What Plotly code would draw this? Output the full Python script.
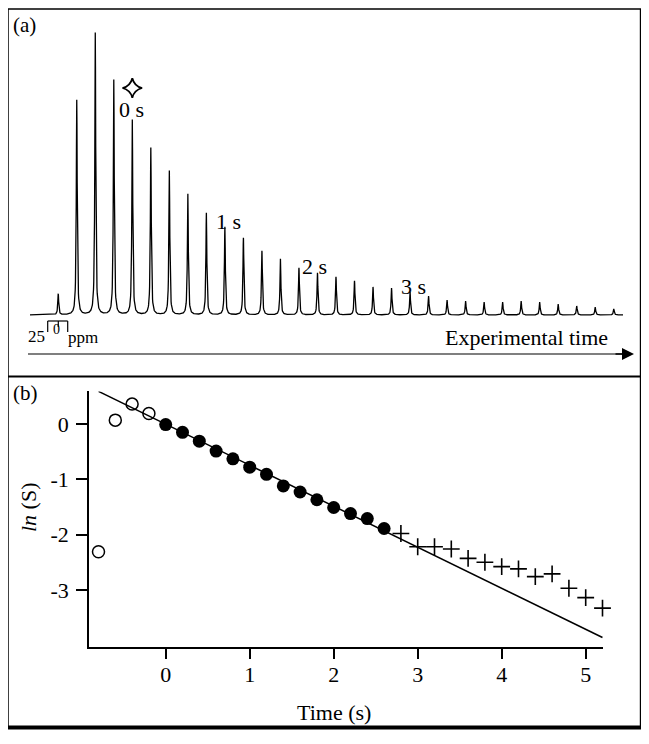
import plotly.graph_objects as go

# page body has an 8px margin: build the figure 16px smaller and shift coordinates
OFF = 8
W, H = 649 - 2 * OFF, 744 - 2 * OFF
FONT = "Liberation Serif"

# ---------------- Panel (a) data: spectrum peak train ----------------
peak_times = [-0.8, -0.6, -0.4, -0.2, 0.0, 0.2, 0.4, 0.6, 0.8, 1.0, 1.2, 1.4, 1.6, 1.8, 2.0,
              2.2, 2.4, 2.6, 2.8, 3.0, 3.2, 3.4, 3.6, 3.8, 4.0, 4.2, 4.4, 4.6, 4.8, 5.0, 5.2]
peak_heights = [21, 215, 282, 235, 195, 167, 144, 121, 102, 88, 77, 64, 56, 47, 42,
                38, 34, 28, 27, 23, 19, 15, 14, 13, 13, 14, 13, 11, 9, 8, 6]
time_labels = ["0 s", "1 s", "2 s", "3 s"]
time_label_x = [-0.01, 1.04, 1.97, 3.04]
time_label_y = [206, 94, 49, 29]

# ---------------- Panel (b) data ----------------
open_t = [-0.8, -0.6, -0.4, -0.2]
open_ln = [-2.31, 0.07, 0.36, 0.19]
fill_t = [0.0, 0.2, 0.4, 0.6, 0.8, 1.0, 1.2, 1.4, 1.6, 1.8, 2.0, 2.2, 2.4, 2.6]
fill_ln = [-0.01, -0.15, -0.31, -0.49, -0.63, -0.78, -0.91, -1.12, -1.23, -1.37, -1.51, -1.62, -1.71, -1.89]
cross_t = [2.8, 3.0, 3.2, 3.4, 3.6, 3.8, 4.0, 4.2, 4.4, 4.6, 4.8, 5.0, 5.2]
cross_ln = [-1.98, -2.22, -2.22, -2.26, -2.43, -2.50, -2.58, -2.62, -2.76, -2.71, -2.97, -3.14, -3.33]
fit_t = [-0.8, 5.2]
fit_ln = [0.59, -3.86]
x_ticks_b = [0, 1, 2, 3, 4, 5]
y_ticks_b = [0, -1, -2, -3]

# ---- spectrum line built from the peak list (Lorentzian lineshapes) ----
px_per_s = 92.6
t_min, t_max = -1.105, 5.30
hw = 0.55 / px_per_s
grid = [t_min + i * (t_max - t_min) / 2400 for i in range(2401)] + list(peak_times)
grid = sorted(set(grid))
spec = []
for t in grid:
    v = 0.0
    for pt, ph in zip(peak_times, peak_heights):
        d = (t - pt) / hw
        v += ph / (1 + d * d)
    spec.append(v)


def px_x(p):
    return (p - OFF) / W


def px_y(p):
    return 1 - (p - OFF) / H


fig = go.Figure()

# panel (a)
fig.add_trace(go.Scatter(x=grid, y=spec, mode="lines", line=dict(color="black", width=1.3),
                         xaxis="x2", yaxis="y2", hoverinfo="skip"))
fig.add_trace(go.Scatter(x=[0.0], y=[227], mode="markers",
                         marker=dict(symbol="star-diamond-open", size=14, color="black",
                                     line=dict(width=1.8, color="black")),
                         xaxis="x2", yaxis="y2"))

# panel (b)
fig.add_trace(go.Scatter(x=fit_t, y=fit_ln, mode="lines", line=dict(color="black", width=1.5),
                         cliponaxis=False))
fig.add_trace(go.Scatter(x=open_t, y=open_ln, mode="markers", cliponaxis=False,
                         marker=dict(symbol="circle-open", size=12, color="black",
                                     line=dict(width=1.5, color="black"))))
fig.add_trace(go.Scatter(x=fill_t, y=fill_ln, mode="markers", cliponaxis=False,
                         marker=dict(symbol="circle", size=13, color="black")))
fig.add_trace(go.Scatter(x=cross_t, y=cross_ln, mode="markers", cliponaxis=False,
                         marker=dict(symbol="cross-thin", size=12, color="black",
                                     line=dict(width=1.6, color="black"))))

# axes geometry (reference pixels)
ax_b_left, ax_b_right = 89, 603
ax_b_top, ax_b_bottom = 391.4, 646.7
x0_px, x_scale = 165.7, 84.0
y0_px, y_scale = 424.0, 55.3
xr_b = [(ax_b_left - x0_px) / x_scale, (ax_b_right - x0_px) / x_scale]
yr_b = [(y0_px - ax_b_bottom) / y_scale, (y0_px - ax_b_top) / y_scale]

a_top, a_bottom = 9, 376
base_px = 315
a_left_px = 30
a_right_px = 623


def hline(x0, x1, y, w):
    return dict(type="line", xref="paper", yref="paper", x0=px_x(x0), x1=px_x(x1), y0=px_y(y), y1=px_y(y),
                line=dict(color="black", width=w))


def vline(x, y0, y1, w):
    return dict(type="line", xref="paper", yref="paper", x0=px_x(x), x1=px_x(x), y0=px_y(y0), y1=px_y(y1),
                line=dict(color="black", width=w))


shapes = [
    hline(8, 642, 9, 1.5),
    vline(8, 9, 729, 1.5),
    vline(640.8, 9, 729, 2),
    hline(8, 642, 376.5, 1.8),
    hline(8, 642, 727.5, 4),
    hline(28, 622, 354, 1.2),
    hline(47.7, 67.7, 321, 1.2),
    vline(47.7, 321, 332, 1.2),
    vline(58.3, 321, 327, 1.2),
    vline(67.7, 321, 332, 1.2),
]


def pann(text, x, y, size, xanchor="center", **kw):
    return dict(text=text, xref="paper", yref="paper", x=px_x(x), y=px_y(y), xanchor=xanchor,
                yanchor="middle", showarrow=False, font=dict(size=size), **kw)


annotations = [
    pann("(a)", 11, 25, 21, "left"),
    pann("(b)", 11, 393, 21, "left"),
    pann("Experimental time", 610, 338, 22, "right"),
    dict(text="", xref="paper", yref="paper", x=px_x(634), y=px_y(354), ax=-20, ay=0,
         axref="pixel", ayref="pixel", showarrow=True, arrowhead=2, arrowsize=1.6, arrowwidth=1.5,
         arrowcolor="black", standoff=0),
    pann("25", 47, 337, 17, "right"),
    pann("0", 56.7, 329, 14),
    pann("ppm", 66, 338, 17, "left"),
    pann("<i>ln</i> (S)", 28, 507, 22, textangle=-90),
    pann("Time (s)", 334, 712, 22),
]
for lab, lx, ly in zip(time_labels, time_label_x, time_label_y):
    annotations.append(dict(text=lab, xref="x2", yref="y2", x=lx, y=ly, xanchor="center", yanchor="middle",
                            showarrow=False, font=dict(size=22)))

fig.update_layout(
    width=W, height=H,
    margin=dict(l=0, r=0, t=0, b=0),
    paper_bgcolor="white", plot_bgcolor="white",
    showlegend=False,
    font=dict(family=FONT, color="black", size=21),
    xaxis=dict(domain=[px_x(ax_b_left), px_x(ax_b_right)], range=xr_b, anchor="y",
               showline=True, linecolor="black", linewidth=1.5, showgrid=False, zeroline=False,
               ticks="outside", ticklen=11, tickwidth=2, tickcolor="black",
               tickvals=x_ticks_b, ticktext=[str(v) for v in x_ticks_b],
               tickfont=dict(size=22, family=FONT), ticklabelstandoff=-4),
    yaxis=dict(domain=[px_y(ax_b_bottom), px_y(ax_b_top)], range=yr_b, anchor="x",
               showline=True, linecolor="black", linewidth=1.5, showgrid=False, zeroline=False,
               ticks="outside", ticklen=11, tickwidth=2, tickcolor="black",
               tickvals=y_ticks_b, ticktext=[str(v) for v in y_ticks_b],
               tickfont=dict(size=22, family=FONT), ticklabelstandoff=3),
    xaxis2=dict(domain=[px_x(a_left_px), px_x(a_right_px)], range=[t_min, t_max], anchor="y2", visible=False),
    yaxis2=dict(domain=[px_y(a_bottom), px_y(a_top)], range=[base_px - a_bottom, base_px - a_top],
                anchor="x2", visible=False),
    shapes=shapes,
    annotations=annotations,
)

fig.write_html("out.html")
